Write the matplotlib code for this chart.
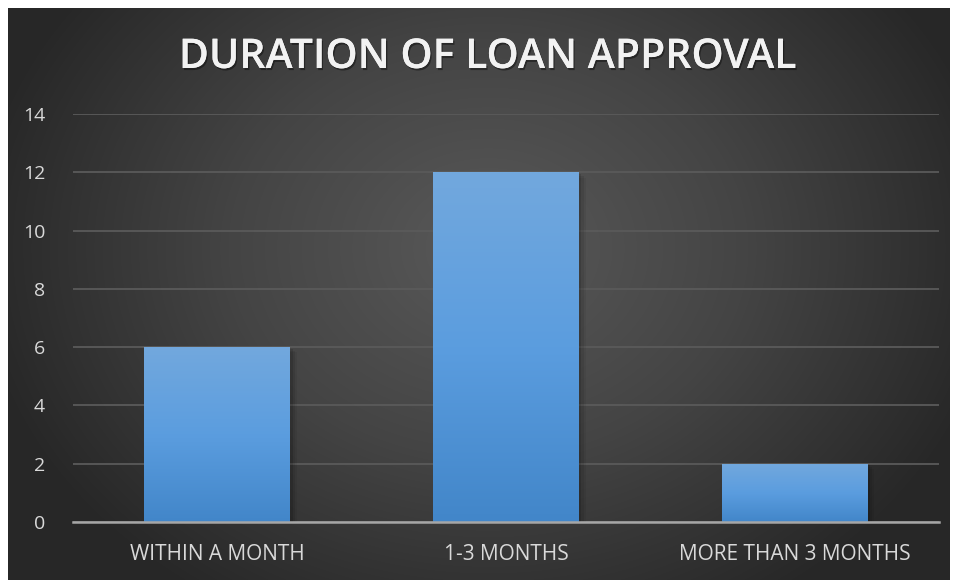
import numpy as np
import matplotlib.pyplot as plt
import matplotlib.patheffects as pe
from matplotlib.colors import LinearSegmentedColormap

categories = ["WITHIN A MONTH", "1-3 MONTHS", "MORE THAN 3 MONTHS"]
values = [6, 12, 2]
yticks = [0, 2, 4, 6, 8, 10, 12, 14]
title = "DURATION OF LOAN APPROVAL"

W, H = 955, 580
fig = plt.figure(figsize=(W / 100, H / 100), dpi=100)
fig.patch.set_facecolor("white")

# dark radial-gradient panel
bg = fig.add_axes([8 / W, 0, 942 / W, 572 / H])
bg.set_axis_off()
yy, xx = np.mgrid[0:572, 0:942]
r = np.sqrt(((xx - 480) / 520) ** 2 + ((yy - 240) / 420) ** 2)
r = np.clip(r, 0, 1)
bg_cmap = LinearSegmentedColormap.from_list("bg", ["#595959", "#444444", "#272727"])
bg.imshow(r, cmap=bg_cmap, vmin=0, vmax=1, aspect="auto", interpolation="bilinear")

# plot area
ax = fig.add_axes([73 / W, (H - 522) / H, 866 / W, 408 / H])
ax.patch.set_alpha(0)
x = np.arange(len(categories))
bars = ax.bar(x, values, width=0.505, color="#5b9bd5", zorder=3)

grad = LinearSegmentedColormap.from_list("bar", ["#4286c9", "#5b9ddf", "#72a8dd"])
for b in bars:
    bx, by = b.get_x(), b.get_y()
    bw, bh = b.get_width(), b.get_height()
    # soft shadow
    for k, a in enumerate([0.12, 0.08, 0.05]):
        ax.bar(bx + bw / 2 + 0.004 * (k + 1), bh, width=bw + 0.008 * (k + 1),
               bottom=-0.06 * (k + 1), color="black", alpha=a, zorder=2)
    img = ax.imshow(np.linspace(0, 1, 256).reshape(-1, 1), cmap=grad,
                    extent=[bx, bx + bw, by, by + bh], aspect="auto",
                    origin="lower", zorder=3)
    img.set_clip_path(b)
ax.set_xlim(-0.5, len(categories) - 0.5)
ax.set_ylim(0, 14)

ax.set_yticks(yticks)
ax.yaxis.grid(True, color="#5a5a5a", linewidth=1.3, zorder=1)
ax.set_axisbelow(True)
for s in ["top", "right", "left"]:
    ax.spines[s].set_visible(False)
ax.spines["bottom"].set_color("#a6a6a6")
ax.spines["bottom"].set_linewidth(1.8)
ax.spines["bottom"].set_zorder(4)
ax.tick_params(axis="both", length=0, colors="#d9d9d9")
ax.tick_params(axis="y", pad=20, labelsize=14)
ax.tick_params(axis="x", pad=16)
ax.set_xticks(x)
ax.set_xticklabels(categories, fontsize=15)
for lbl in ax.get_xticklabels() + ax.get_yticklabels():
    lbl.set_family("Open Sans")

fig.text(488 / W, 1 - 57 / H, title, ha="center", va="center",
         fontsize=29.5, fontweight="semibold", family="Open Sans", color="#f2f2f2",
         path_effects=[pe.withSimplePatchShadow(offset=(1, -1.5), shadow_rgbFace="black", alpha=0.4),
                       pe.Normal()])

fig.savefig("out.png", dpi=100, facecolor=fig.get_facecolor())
